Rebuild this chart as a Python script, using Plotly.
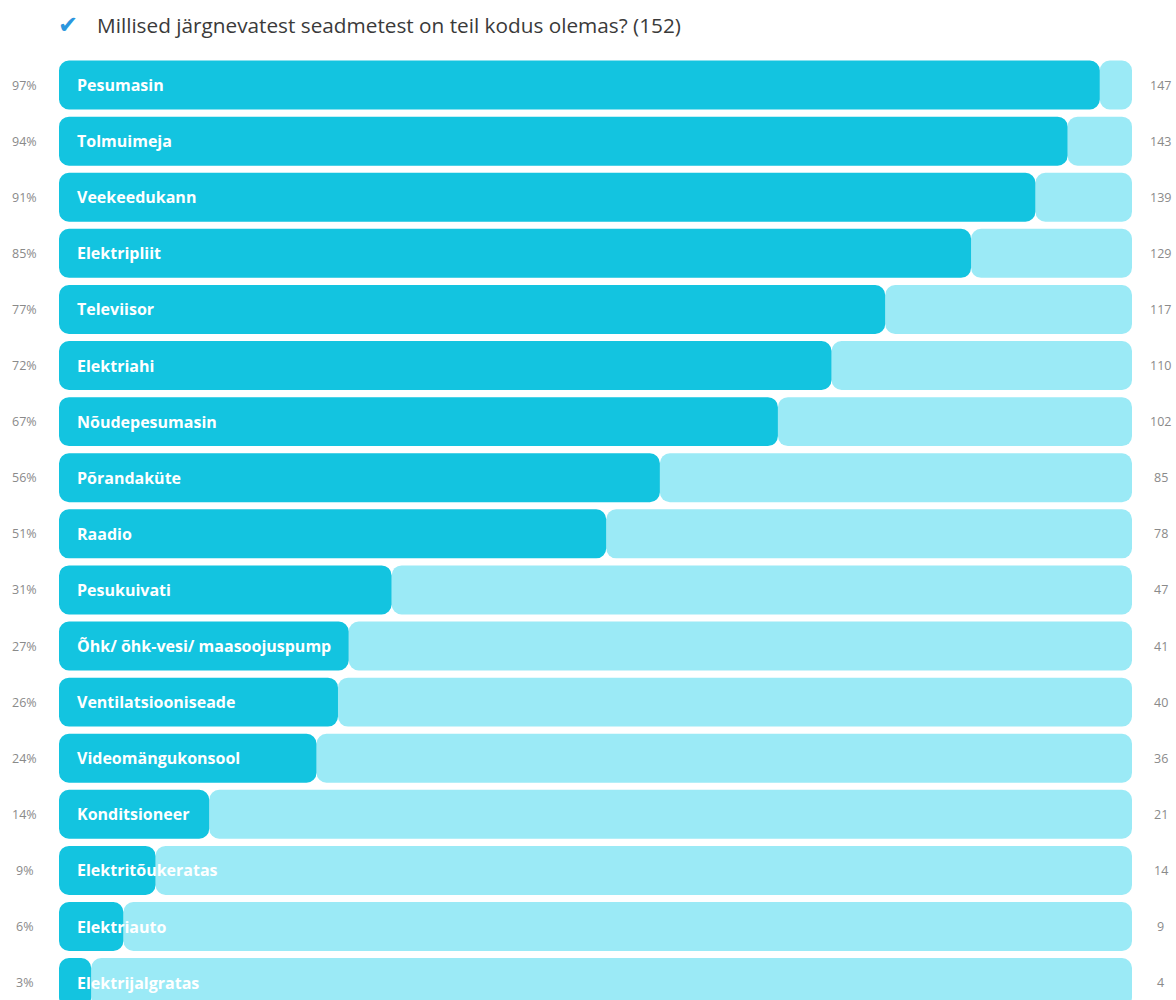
import plotly.graph_objects as go

title_text = "Millised järgnevatest seadmetest on teil kodus olemas? (152)"
categories = ["Pesumasin", "Tolmuimeja", "Veekeedukann", "Elektripliit", "Televiisor",
              "Elektriahi", "Nõudepesumasin", "Põrandaküte", "Raadio", "Pesukuivati",
              "Õhk/ õhk-vesi/ maasoojuspump", "Ventilatsiooniseade", "Videomängukonsool",
              "Konditsioneer", "Elektritõukeratas", "Elektriauto", "Elektrijalgratas"]
percents = [97, 94, 91, 85, 77, 72, 67, 56, 51, 31, 27, 26, 24, 14, 9, 6, 3]
counts = [147, 143, 139, 129, 117, 110, 102, 85, 78, 47, 41, 40, 36, 21, 14, 9, 4]
total_pct = 100

FG = "#13c4e0"
BG = "#9beaf6"
FONT = "Open Sans"

ypos = list(range(len(categories)))
remaining = [total_pct - p for p in percents]

fig = go.Figure()
# background remainder (rounded at right end)
fig.add_trace(go.Bar(
    y=ypos, x=remaining, base=percents, orientation="h",
    marker=dict(color=BG, line=dict(width=0), cornerradius=10),
    width=0.873, hoverinfo="skip", showlegend=False))
# foreground (drawn from value back to 0 so left end is rounded)
fig.add_trace(go.Bar(
    y=ypos, x=[-p for p in percents], base=percents, orientation="h",
    marker=dict(color=FG, line=dict(width=0), cornerradius=10),
    width=0.873, hoverinfo="skip", showlegend=False))

annotations = []
for i, (cat, p, c) in enumerate(zip(categories, percents, counts)):
    annotations.append(dict(x=0, y=i, xref="x", yref="y", text=cat, showarrow=False,
                            xanchor="left", xshift=16, yanchor="middle",
                            font=dict(family=FONT, size=16, color="white", weight="bold")))
    annotations.append(dict(x=-0.0326, y=i, xref="paper", yref="y", text=f"{p}%",
                            showarrow=False, xanchor="center", yanchor="middle",
                            font=dict(family=FONT, size=12.5, color="#8a8a8a")))
    annotations.append(dict(x=1.027, y=i, xref="paper", yref="y", text=str(c),
                            showarrow=False, xanchor="center", yanchor="middle",
                            font=dict(family=FONT, size=12.5, color="#8a8a8a")))

annotations.append(dict(x=0.0336, y=1.034, xref="paper", yref="paper", text=title_text,
                        showarrow=False, xanchor="left", yanchor="middle",
                        font=dict(family=FONT, size=20.75, color="#3a3a3a")))
annotations.append(dict(x=0.008, y=1.034, xref="paper", yref="paper", text="✔",
                        showarrow=False, xanchor="center", yanchor="middle",
                        font=dict(family="DejaVu Sans", size=24, color="#2b96de")))

fig.update_layout(
    width=1176, height=1000,
    margin=dict(l=59, r=44, t=57, b=0, pad=0),
    barmode="overlay",
    plot_bgcolor="white", paper_bgcolor="white",
    xaxis=dict(range=[0, total_pct], visible=False, fixedrange=True),
    yaxis=dict(range=[16.31, -0.5], visible=False, fixedrange=True),
    annotations=annotations,
    font=dict(family=FONT),
)

fig.write_html("out.html",
               config={"displayModeBar": False},
               post_script="document.body.style.margin='0';document.body.style.overflow='hidden';")
